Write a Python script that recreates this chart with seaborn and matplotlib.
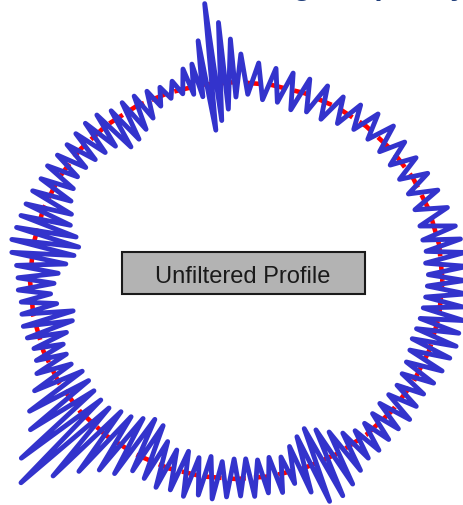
import numpy as np
import pandas as pd
import seaborn as sns
import matplotlib.pyplot as plt
from matplotlib.patches import Rectangle

title = "Filtering Frequency"
label = "Unfiltered Profile"

# mean line (red dashed) radius in px, every 10 degrees counter-clockwise from east
ref_angle = list(range(0, 360, 10))
ref_radius = [206.0, 205.8, 205.1, 204.1, 202.8, 201.5, 200.3, 199.3, 198.7, 198.5,
              198.8, 199.6, 201.0, 202.5, 204.0, 205.2, 206.0, 206.4, 206.5, 206.2,
              205.6, 205.0, 204.0, 202.6, 201.0, 199.8, 198.9, 198.5, 198.8, 199.4,
              200.4, 201.6, 202.9, 204.0, 205.0, 205.7]

# the profile's waviness changes round the part: sections (deg) and cycles in each
section_edges = [0, 14, 70, 88.9, 104.2, 145, 160, 205, 245, 286, 310, 340, 360]
section_cycles = [4, 11, 4, 6, 11, 4, 14, 11, 11, 7, 8, 6]

# outward / inward peak of every cycle, px from the mean line
peak_out = [22, 25, 24, 22,
            20, 18, 16, 15, 14, 15, 18, 17, 14, 12, 15,
            15, 16, 17, 20,
            28, 43, 60, 80, 44, 22,
            19, 10, 8, 9, 10, 10, 9, 14, 15, 14, 13,
            14, 16, 15, 17,
            18, 19, 20, 22, 20, 14, 12, 12, 10, 11, 12, 11, 8, 10,
            15, 25, 40, 50, 75, 92, 65, 45, 32, 27, 16,
            18, 22, 20, 23, 19, 21, 18, 17, 18, 16, 18,
            12, 25, 40, 40, 34, 26, 20,
            20, 18, 17, 19, 16, 15, 18, 20,
            22, 24, 23, 25, 22, 24]
peak_in = [14, 16, 14, 15,
           14, 13, 12, 12, 11, 10, 9, 10, 14, 18, 17,
           20, 16, 16, 12,
           15, 27, 38, 47, 12, 8,
           5, 6, 10, 18, 25, 30, 32, 22, 20, 18, 16,
           15, 18, 22, 28,
           31, 40, 45, 42, 35, 28, 24, 20, 25, 40, 37, 28, 21, 20,
           20, 26, 26, 24, 23, 23, 28, 30, 35, 40, 38,
           25, 20, 22, 18, 21, 17, 20, 20, 18, 19, 17,
           25, 32, 37, 31, 23, 15, 10,
           10, 12, 14, 13, 12, 14, 16, 18,
           20, 19, 18, 17, 16, 15]

# mean line
ra = np.deg2rad(np.append(ref_angle, ref_angle[0]))
rr = np.append(ref_radius, ref_radius[0])
df_ref = pd.DataFrame({"x": rr * np.cos(ra), "y": rr * np.sin(ra)})

# cycle start angles from the sections
starts, widths = [], []
for lo, hi, k in zip(section_edges[:-1], section_edges[1:], section_cycles):
    w = (hi - lo) / k
    starts += [lo + i * w for i in range(k)]
    widths += [w] * k
starts = np.array(starts)
widths = np.array(widths)

# profile vertices, alternating outward and inward
n = len(peak_out)
ang = np.empty(2 * n)
dev = np.empty(2 * n)
ang[0::2] = starts
ang[1::2] = starts + widths / 2
dev[0::2] = peak_out
dev[1::2] = -np.array(peak_in)
base = np.interp(ang, ref_angle, ref_radius, period=360)
r = np.append(base + dev, base[0] + dev[0])
a = np.deg2rad(np.append(ang, ang[0]))
df_prof = pd.DataFrame({"x": r * np.cos(a), "y": r * np.sin(a)})

sns.set_style("white")
fig = plt.figure(figsize=(4.64, 5.06), dpi=100)
ax = fig.add_axes([0, 0, 1, 1])

sns.lineplot(data=df_ref, x="x", y="y", sort=False, estimator=None, ax=ax,
             color="#FF0000", linewidth=3.3, linestyle=(0, (3.5, 1.8)), zorder=1)
sns.lineplot(data=df_prof, x="x", y="y", sort=False, estimator=None, ax=ax,
             color="#3333CC", linewidth=3.5, solid_joinstyle="round",
             solid_capstyle="round", zorder=2)

ax.add_patch(Rectangle((-114.8, -13.5), 243.3, 41.7, facecolor="#B3B3B3",
                       edgecolor="#1a1a1a", linewidth=1.5, zorder=3))
ax.text(6, -1.5, label, ha="center", va="baseline", fontsize=17,
        family="Liberation Sans", color="#1a1a1a", zorder=4)

ax.set_xlim(-236.5, 227.5)
ax.set_ylim(-224.5, 281.5)
ax.axis("off")

# title sits above the visible area, only its descenders show
fig.text(467 / 464, 1 + 5 / 506, title, ha="right", va="baseline", fontsize=21,
         fontweight="bold", family="Liberation Sans", color="#1F3D7A")

fig.savefig("out.png", dpi=100)
